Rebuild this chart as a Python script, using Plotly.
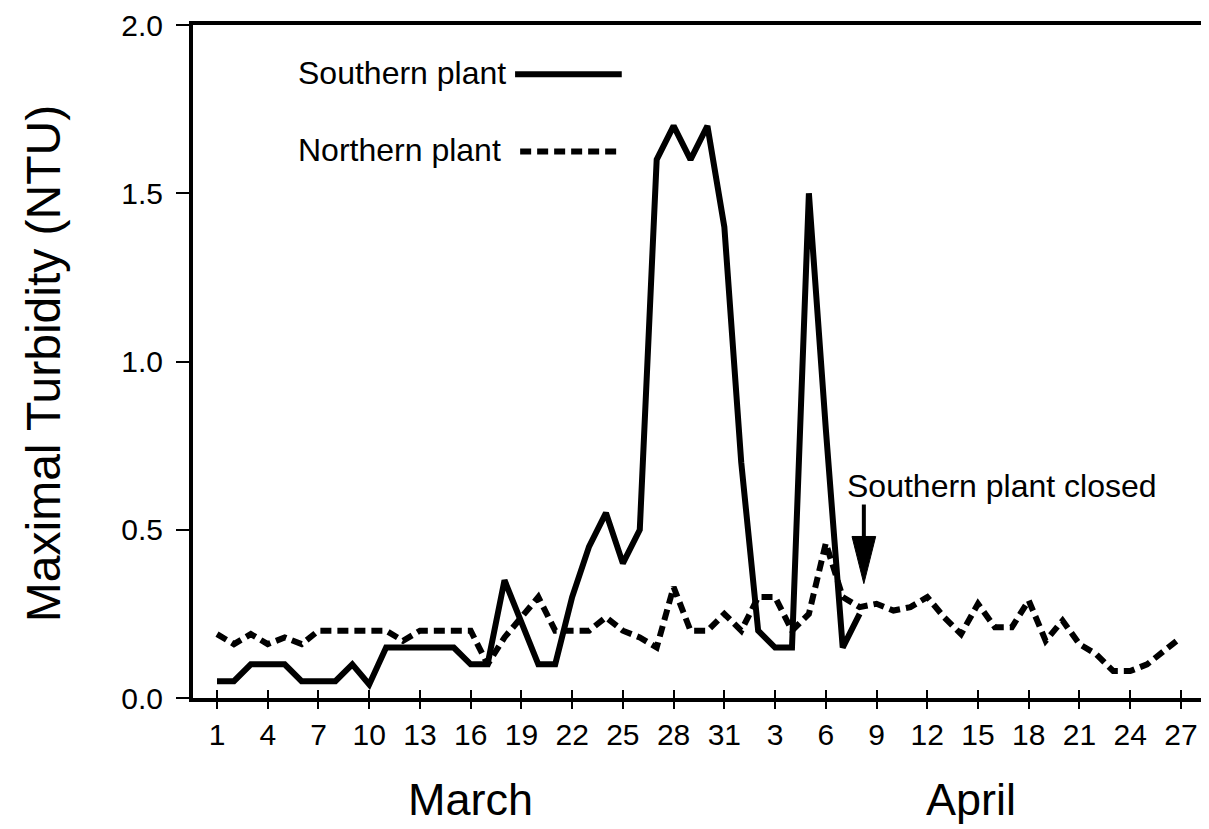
import plotly.graph_objects as go
import pandas as pd

# ---- data ----
dates = pd.date_range("1993-03-01", "1993-04-27", freq="D")
day_index = list(range(len(dates)))

southern_plant = [0.05, 0.05, 0.10, 0.10, 0.10, 0.05, 0.05, 0.05, 0.10, 0.04,
                  0.15, 0.15, 0.15, 0.15, 0.15, 0.10, 0.10, 0.35, 0.22, 0.10,
                  0.10, 0.30, 0.45, 0.55, 0.40, 0.50, 1.60, 1.70, 1.60, 1.70,
                  1.40, 0.70, 0.20, 0.15, 0.15, 1.50, 0.80, 0.15, 0.25]

northern_plant = [0.19, 0.16, 0.19, 0.16, 0.18, 0.16, 0.20, 0.20, 0.20, 0.20,
                  0.20, 0.17, 0.20, 0.20, 0.20, 0.20, 0.10, 0.18, 0.24, 0.30,
                  0.20, 0.20, 0.20, 0.24, 0.20, 0.18, 0.15, 0.33, 0.20, 0.20,
                  0.25, 0.20, 0.30, 0.30, 0.20, 0.25, 0.46, 0.30, 0.27, 0.28,
                  0.26, 0.27, 0.30, 0.24, 0.19, 0.28, 0.21, 0.21, 0.29, 0.17,
                  0.23, 0.16, 0.13, 0.08, 0.08, 0.10, 0.14, 0.18]

tick_positions = day_index[::3]
tick_labels = [str(d.day) for d in dates[::3]]
y_ticks = [0.0, 0.5, 1.0, 1.5, 2.0]

closure_day = 38.25          # arrow position (day index)
FONT = "Liberation Sans, Arial, Helvetica, sans-serif"
DOT = "11px,6px"

fig = go.Figure()
fig.add_trace(go.Scatter(x=day_index[:len(northern_plant)], y=northern_plant,
                         mode="lines", name="Northern plant",
                         line=dict(color="black", width=6, dash=DOT)))
fig.add_trace(go.Scatter(x=day_index[:len(southern_plant)], y=southern_plant,
                         mode="lines", name="Southern plant",
                         line=dict(color="black", width=6)))
# dummy trace so the overlay axis (inner tick marks) is drawn
fig.add_trace(go.Scatter(x=[None], y=[None], xaxis="x2", showlegend=False,
                         hoverinfo="skip"))

x_range = [-1.42, 58.66]
fig.update_layout(
    width=1201, height=821,
    margin=dict(l=185, r=0, t=14, b=131),
    paper_bgcolor="white", plot_bgcolor="white",
    showlegend=False,
    font=dict(family=FONT, color="black"),
    xaxis=dict(range=x_range, tickmode="array", tickvals=tick_positions,
               ticktext=tick_labels, ticks="outside", ticklen=7, tickwidth=2,
               tickcolor="black", showline=True, linewidth=4, linecolor="black",
               mirror=True, showgrid=False, zeroline=False,
               tickfont=dict(size=30, family=FONT, color="black")),
    xaxis2=dict(range=x_range, overlaying="x", anchor="y", side="bottom",
                tickmode="array", tickvals=tick_positions, ticks="inside",
                ticklen=8, tickwidth=2, tickcolor="black",
                showticklabels=False, showline=False, showgrid=False,
                zeroline=False),
    yaxis=dict(range=[0, 2], tickmode="array", tickvals=y_ticks,
               tickformat=".1f", ticks="outside", ticklen=13, tickwidth=2,
               tickcolor="black", showline=True, linewidth=4,
               linecolor="black", showgrid=False, zeroline=False,
               ticklabelstandoff=7, ticklabeloverflow="allow",
               tickfont=dict(size=30, family=FONT, color="black")),
)

# axis title and month labels
fig.add_annotation(text="Maximal Turbidity (NTU)", xref="paper", yref="paper",
                   x=-0.147, y=0.497, xanchor="center", yanchor="middle",
                   textangle=-90, showarrow=False,
                   font=dict(size=48, family=FONT, color="black"))
fig.add_annotation(text="March", xref="x", yref="paper", x=15, y=-0.151,
                   xanchor="center", yanchor="middle", showarrow=False,
                   font=dict(size=45, family=FONT, color="black"))
fig.add_annotation(text="April", xref="x", yref="paper", x=44.6, y=-0.151,
                   xanchor="center", yanchor="middle", showarrow=False,
                   font=dict(size=45, family=FONT, color="black"))

# in-plot legend: text, then line sample to the right
fig.add_annotation(text="Southern plant", xref="paper", yref="paper",
                   x=0.101, y=0.929, xanchor="left", yanchor="middle",
                   showarrow=False,
                   font=dict(size=32, family=FONT, color="black"))
fig.add_annotation(text="Northern plant", xref="paper", yref="paper",
                   x=0.101, y=0.814, xanchor="left", yanchor="middle",
                   showarrow=False,
                   font=dict(size=32, family=FONT, color="black"))
fig.add_shape(type="line", xref="paper", yref="paper", x0=0.317, x1=0.422,
              y0=0.927, y1=0.927, line=dict(color="black", width=6))
fig.add_shape(type="line", xref="paper", yref="paper", x0=0.322, x1=0.422,
              y0=0.812, y1=0.812, line=dict(color="black", width=6, dash=DOT))

# closure annotation with arrow
fig.add_annotation(text="Southern plant closed", xref="x", yref="y",
                   x=46.4, y=0.63, xanchor="center", yanchor="middle",
                   showarrow=False,
                   font=dict(size=32, family=FONT, color="black"))
fig.add_shape(type="line", xref="x", yref="y", x0=closure_day, x1=closure_day,
              y0=0.575, y1=0.46, line=dict(color="black", width=4))
fig.add_shape(type="path", xref="x", yref="y",
              path=f"M {closure_day-0.7} 0.48 L {closure_day+0.7} 0.48 "
                   f"L {closure_day} 0.34 Z",
              fillcolor="black", line=dict(color="black", width=1))

fig.write_html("out.html")
